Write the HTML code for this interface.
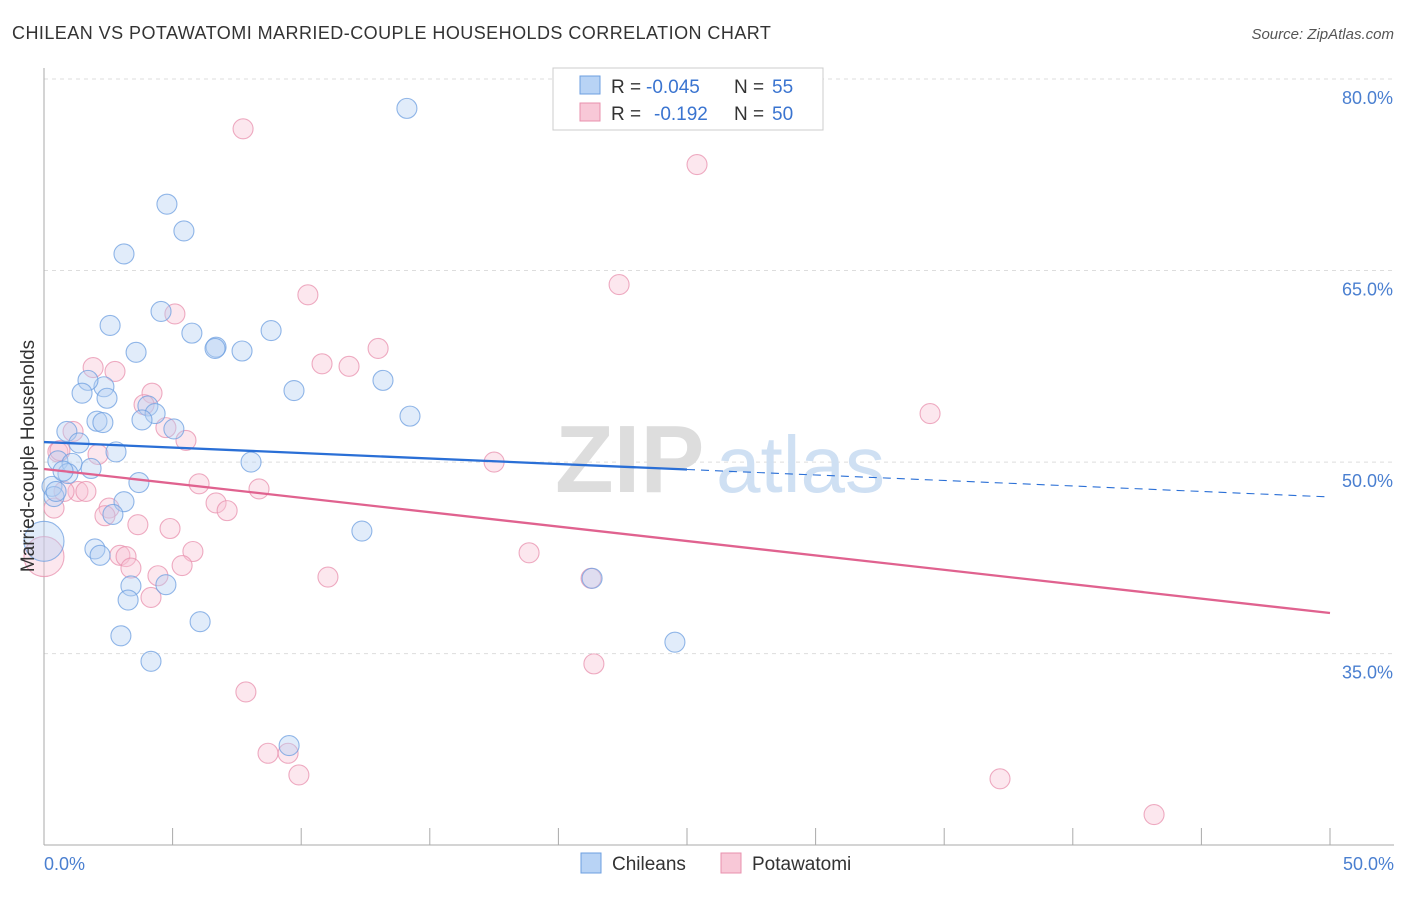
<!DOCTYPE html>
<html><head><meta charset="utf-8"><style>
body{margin:0;background:#fff;font-family:"Liberation Sans",sans-serif;}
svg text{font-family:"Liberation Sans",sans-serif;}
</style></head><body>
<svg width="1406" height="892" viewBox="0 0 1406 892" xmlns="http://www.w3.org/2000/svg">
<text x="12" y="39" font-size="18" fill="#333" letter-spacing="0.45">CHILEAN VS POTAWATOMI MARRIED-COUPLE HOUSEHOLDS CORRELATION CHART</text>
<text x="1394" y="39" font-size="15" fill="#555" font-style="italic" text-anchor="end">Source: ZipAtlas.com</text>
<g id="grid"></g>
<g><text x="555" y="492" font-size="96" fill="#ddd" font-family="Liberation Serif" font-weight="bold">ZIP</text><text x="716" y="492" font-size="80" fill="#cfe0f3">atlas</text></g>
<g id="points"></g>
<g id="trends"></g>
<text transform="translate(34,456) rotate(-90)" font-size="19" fill="#333" text-anchor="middle">Married-couple Households</text>
<text x="44" y="870" font-size="18" fill="#4a7fd0">0.0%</text>
<text x="1394" y="870" font-size="18" fill="#4a7fd0" text-anchor="end">50.0%</text>
<g>
<rect x="553" y="68" width="270" height="62" fill="#fff" stroke="#ccc"/>
<rect x="580" y="76" width="20" height="18" fill="#b8d3f5" stroke="#6d9fe0"/>
<rect x="580" y="103" width="20" height="18" fill="#f8c8d7" stroke="#e890ae"/>
<text x="611" y="93" font-size="19" fill="#333">R =</text>
<text x="646" y="93" font-size="19" fill="#3a74d0">-0.045</text>
<text x="734" y="93" font-size="19" fill="#333">N =</text>
<text x="772" y="93" font-size="19" fill="#3a74d0">55</text>
<text x="611" y="120" font-size="19" fill="#333">R =</text>
<text x="654" y="120" font-size="19" fill="#3a74d0">-0.192</text>
<text x="734" y="120" font-size="19" fill="#333">N =</text>
<text x="772" y="120" font-size="19" fill="#3a74d0">50</text>
</g>
<g>
<rect x="581" y="853" width="20" height="20" fill="#b8d3f5" stroke="#6d9fe0"/>
<text x="612" y="870" font-size="19" fill="#333">Chileans</text>
<rect x="721" y="853" width="20" height="20" fill="#f8c8d7" stroke="#e890ae"/>
<text x="752" y="870" font-size="19" fill="#333">Potawatomi</text>
</g>
</svg>
<script>
const yTicks=[80,65,50,35];
const xTicks=[0,5,10,15,20,25,30,35,40,45,50];
const blueX=[14.11,4.78,5.44,3.11,4.55,2.57,5.75,8.83,6.69,7.70,3.58,9.72,13.18,2.33,1.71,1.48,2.45,14.23,4.04,4.32,3.81,2.06,2.29,5.05,0.89,1.36,2.80,8.05,0.54,1.09,1.83,0.93,3.69,0.31,0.39,3.11,2.68,12.36,1.98,2.18,0.0,3.38,4.74,3.27,21.31,6.07,2.99,24.53,4.16,9.53,0.47,0.74,6.65];
const blueY=[77.7,70.2,68.1,66.3,61.8,60.7,60.1,60.3,59.0,58.7,58.6,55.6,56.4,55.9,56.4,55.4,55.0,53.6,54.4,53.8,53.3,53.2,53.1,52.6,52.4,51.5,50.8,50.0,50.1,49.9,49.5,49.1,48.4,48.1,47.3,46.9,45.9,44.6,43.2,42.7,43.8,40.3,40.4,39.2,40.9,37.5,36.4,35.9,34.4,27.8,47.7,49.3,58.9];
const pinkX=[7.74,25.39,22.36,10.26,5.09,12.99,10.81,11.86,1.91,2.76,4.20,3.89,34.45,4.74,1.13,5.52,0.54,2.10,17.50,6.03,8.36,1.32,1.63,0.78,6.69,0.39,7.12,2.53,2.37,3.65,4.90,5.79,2.95,3.19,18.86,3.38,5.37,4.43,11.04,21.27,4.16,0,7.85,21.38,8.71,9.49,9.91,37.17,43.16,0.62];
const pinkY=[76.1,73.3,63.9,63.1,61.6,58.9,57.7,57.5,57.4,57.1,55.4,54.5,53.8,52.7,52.4,51.7,50.8,50.6,50.0,48.3,47.9,47.7,47.7,47.7,46.8,46.4,46.2,46.4,45.8,45.1,44.8,43.0,42.7,42.6,42.9,41.7,41.9,41.1,41.0,40.9,39.4,42.6,32.0,34.2,27.2,27.2,25.5,25.2,22.4,50.9];
const blueTrend=[51.57,47.27]; const pinkTrend=[49.46,38.18];
const NS='http://www.w3.org/2000/svg';
const X=v=>44+v*25.72, Y=v=>79+(80-v)*12.77;
function mk(t,a,p){const e=document.createElementNS(NS,t);for(const k in a)e.setAttribute(k,a[k]);p.appendChild(e);return e;}
const g=document.getElementById('grid');
yTicks.forEach(t=>{const l=mk('line',{x1:44,x2:1394,y1:Y(t),y2:Y(t),stroke:'#ddd','stroke-dasharray':'4,4'},g);


const tx=mk('text',{x:1393,y:Y(t)+25,'font-size':18,fill:'#4a7fd0','text-anchor':'end'},g);tx.textContent=t.toFixed(1)+'%';

});
const ax=mk('line',{x1:44,x2:44,y1:68,y2:845,stroke:'#aaa'},g);


const bx=mk('line',{x1:44,x2:1394,y1:845,y2:845,stroke:'#aaa'},g);


xTicks.forEach(t=>{const l=mk('line',{x1:X(t),x2:X(t),y1:828,y2:845,stroke:'#aaa'},g);

});
const pg=document.getElementById('points');
function dots(xs,ys,fill,stroke,name){xs.forEach((x,i)=>{const r=(x===0)?20:10;const c=mk('circle',{cx:X(x),cy:Y(ys[i]),r:r,fill:fill,'fill-opacity':0.4,stroke:stroke,'stroke-opacity':0.75,'stroke-width':1.1},pg);

});}
dots(pinkX,pinkY,'#f8c4d5','#e890ae','potawatomi-point');
dots(blueX,blueY,'#b5d0f3','#6d9fe0','chilean-point');
const tg=document.getElementById('trends');
const by=x=>blueTrend[0]+(blueTrend[1]-blueTrend[0])*x/50;
const b1=mk('line',{x1:X(0),y1:Y(by(0)),x2:X(25),y2:Y(by(25)),stroke:'#2a6fd6','stroke-width':2.3},tg);


const b2=mk('line',{x1:X(25),y1:Y(by(25)),x2:X(50),y2:Y(by(50)),stroke:'#2a6fd6','stroke-width':1.1,'stroke-dasharray':'8,6'},tg);


const p1=mk('line',{x1:X(0),y1:Y(pinkTrend[0]),x2:X(50),y2:Y(pinkTrend[1]),stroke:'#e0628f','stroke-width':2.3},tg);


</script>
</body></html>
